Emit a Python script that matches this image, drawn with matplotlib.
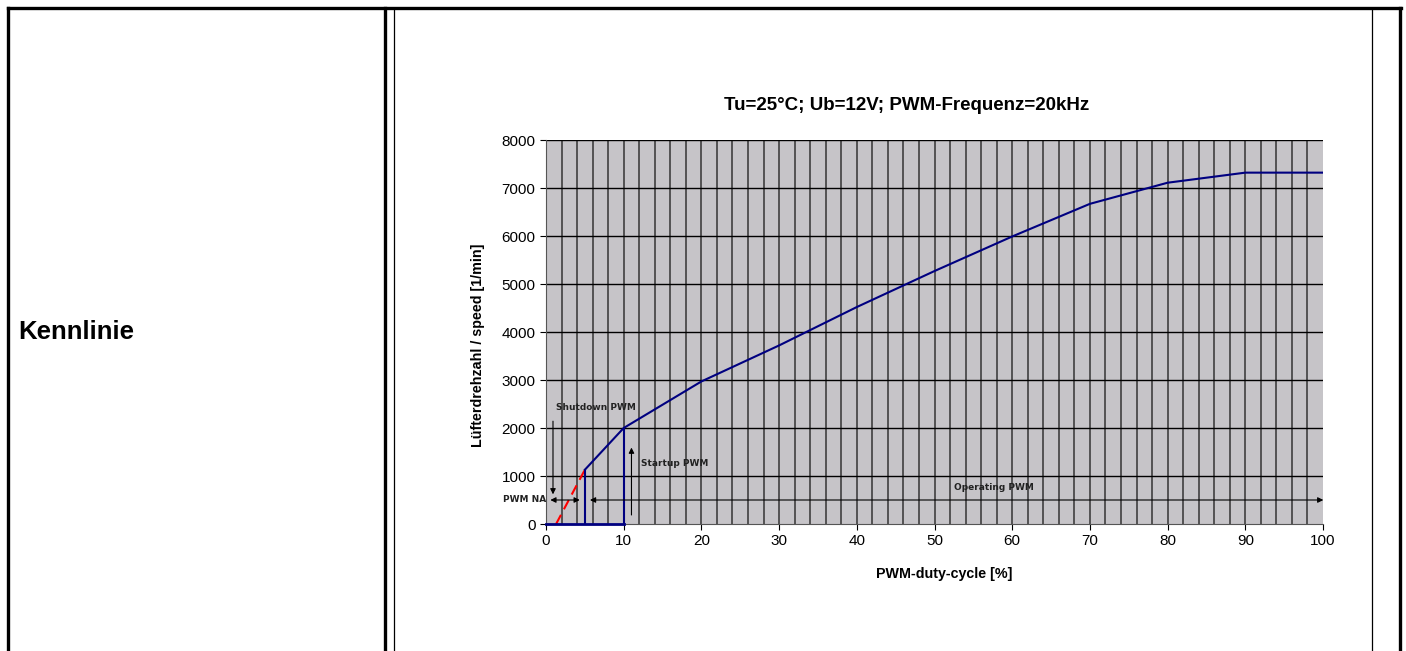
import numpy as np
import matplotlib
matplotlib.use("Agg")
from matplotlib import pyplot as plt
from matplotlib.lines import Line2D

plt.rcParams['font.family'] = ['Liberation Sans', 'DejaVu Sans']

# characteristic curve
duty = [5, 10, 20, 30, 40, 50, 60, 70, 80, 90, 100]
speed = [1130, 2000, 2970, 3720, 4520, 5270, 5990, 6670, 7110, 7320, 7320]

# extrapolated (not available) region
na_duty = [1.3, 5]
na_speed = [0, 1130]

# startup / shutdown markers
startup_duty = 10
startup_speed = 2000
shutdown_duty = 5
shutdown_speed = 1130

W, H = 1406, 651
fig = plt.figure(figsize=(W / 100, H / 100), dpi=100)

def px(x, y):
    return x / W, 1 - y / H

# table lines
def tline(x0, y0, x1, y1, lw):
    a, b = px(x0, y0)
    c, d = px(x1, y1)
    fig.add_artist(Line2D([a, c], [b, d], transform=fig.transFigure, color='black', lw=lw))

tline(8, 8, 1401, 8, 2.4)
tline(8, 8, 8, 651, 2.4)
tline(385, 8, 385, 651, 2.4)
tline(394, 8, 394, 651, 0.9)
tline(1372, 8, 1372, 651, 0.9)
tline(1400, 8, 1400, 651, 2.4)

fig.text(18 / W, 1 - 332 / H, 'Kennlinie', fontsize=18.5, fontweight='bold', va='center', ha='left')

ax = fig.add_axes([546 / W, 1 - 524 / H, 777 / W, 384 / H])
ax.set_facecolor('#c6c4c8')
ax.set_xlim(0, 100)
ax.set_ylim(0, 8000)

for gx in np.arange(2, 100, 2):
    ax.axvline(gx, color='#4a4a4a', lw=1.3, zorder=1)
for gy in np.arange(1000, 8001, 1000):
    ax.axhline(gy, color='black', lw=1.0, zorder=1)

ax.plot(duty, speed, color='#000080', lw=1.5, zorder=3)
ax.plot(na_duty, na_speed, color='#ff0000', lw=1.5, ls=(0, (5, 3)), zorder=3)
ax.plot([0, startup_duty], [0, 0], color='#000080', lw=2, zorder=3, clip_on=False)
ax.plot([shutdown_duty, shutdown_duty], [0, shutdown_speed], color='#000080', lw=1.5, zorder=3)
ax.plot([startup_duty, startup_duty], [0, startup_speed], color='#000080', lw=1.5, zorder=3)

ann = dict(fontsize=6.5, fontweight='bold', color='#222222', family=['DejaVu Sans'])
arr = dict(color='black', lw=0.8, mutation_scale=8)
ax.text(1.3, 2430, 'Shutdown PWM', ha='left', va='center', **ann)
ax.annotate('', xy=(0.9, 560), xytext=(0.9, 2200),
            arrowprops=dict(arrowstyle='-|>', **arr))
ax.text(12.2, 1250, 'Startup PWM', ha='left', va='center', **ann)
ax.annotate('', xy=(11, 1650), xytext=(11, 130),
            arrowprops=dict(arrowstyle='-|>', **arr))
ax.text(-5.5, 500, 'PWM NA', ha='left', va='center', **ann)
ax.annotate('', xy=(0.2, 500), xytext=(4.7, 500),
            arrowprops=dict(arrowstyle='<|-|>', **arr))
ax.annotate('', xy=(100.4, 500), xytext=(5.3, 500), annotation_clip=False,
            arrowprops=dict(arrowstyle='<|-|>', **arr))
ax.text(52.5, 750, 'Operating PWM', ha='left', va='center', **ann)

ax.set_xticks(np.arange(0, 101, 10))
ax.set_yticks(np.arange(0, 8001, 1000))
ax.tick_params(axis='both', labelsize=11, length=4, width=0.8, direction='out')
for s in ['top', 'right']:
    ax.spines[s].set_visible(False)
ax.spines['left'].set_color('#555555')
ax.spines['bottom'].set_color('#555555')

fig.text(907 / W, 1 - 105 / H, 'Tu=25°C; Ub=12V; PWM-Frequenz=20kHz', fontsize=13.5,
         fontweight='bold', ha='center', va='center')
fig.text(944 / W, 1 - 574 / H, 'PWM-duty-cycle [%]', fontsize=10.3,
         fontweight='bold', ha='center', va='center')
fig.text(478 / W, 1 - 345 / H, 'Lüfterdrehzahl / speed [1/min]', fontsize=10.3,
         fontweight='bold', ha='center', va='center', rotation=90)

fig.savefig('out.png', dpi=100)
